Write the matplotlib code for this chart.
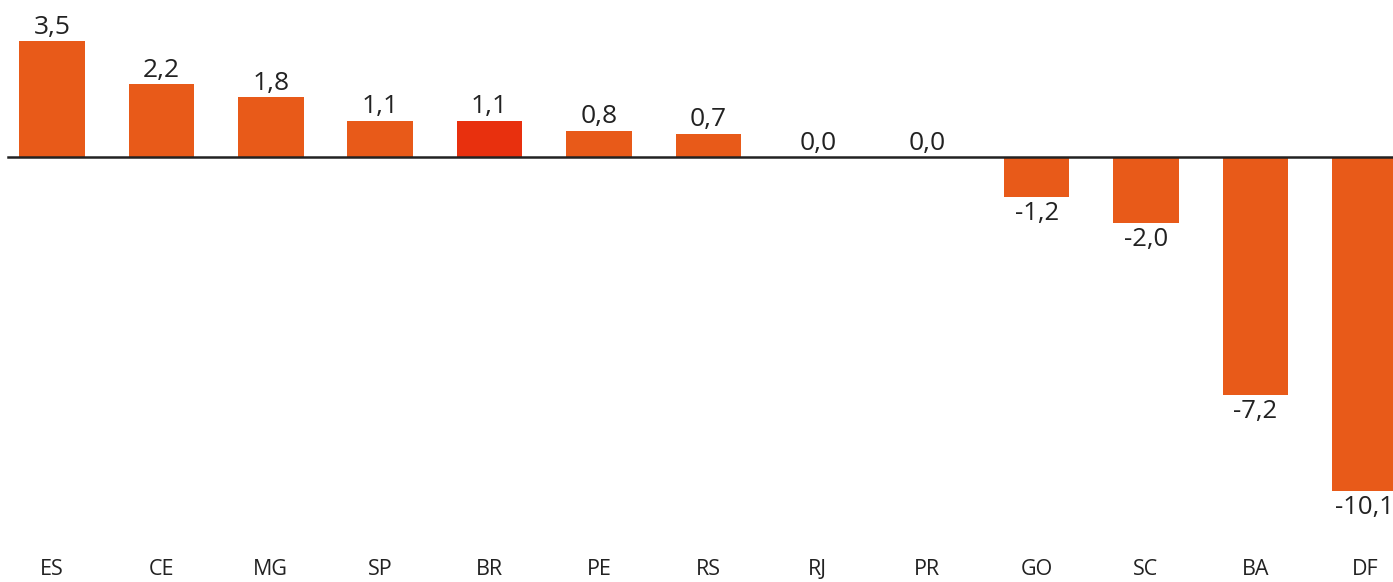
import matplotlib.pyplot as plt
import matplotlib.transforms as mtransforms

states = ['ES', 'CE', 'MG', 'SP', 'BR', 'PE', 'RS', 'RJ', 'PR', 'GO', 'SC', 'BA', 'DF']
values = [3.5, 2.2, 1.8, 1.1, 1.1, 0.8, 0.7, 0.0, 0.0, -1.2, -2.0, -7.2, -10.1]

orange = '#E85A19'
red = '#E8300E'
colors = [red if s == 'BR' else orange for s in states]

plt.rcParams['font.family'] = ['Open Sans', 'DejaVu Sans']

fig = plt.figure(figsize=(13.93, 5.82), dpi=100)
ax = fig.add_axes([0, 0, 1, 1])
ax.set_axis_off()

x = list(range(len(states)))
ax.bar(x, values, width=0.6, color=colors, zorder=2)
ax.axhline(0, xmin=8 / 1393, color='#222222', lw=1.8, zorder=3)

# pixel mapping: zero line at y=157 px, ~33 px per unit, ~109 px per category
ax.set_xlim(-52 / 109.4, 1341 / 109.4)
ax.set_ylim(-425 / 33.1, 157 / 33.1)

for xi, v in zip(x, values):
    label = f'{v:.1f}'.replace('.', ',')
    if v >= 0:
        ax.annotate(label, (xi, v), xytext=(0, 1), textcoords='offset points',
                    ha='center', va='bottom', fontsize=19, color='#222222')
    else:
        ax.annotate(label, (xi, v), xytext=(0, -3), textcoords='offset points',
                    ha='center', va='top', fontsize=18.5, color='#222222')

trans = mtransforms.blended_transform_factory(ax.transData, ax.transAxes)
for xi, s in zip(x, states):
    ax.text(xi, 0.021, s, transform=trans, ha='center', va='center',
            fontsize=15.5, color='#222222')

fig.savefig('out.png', dpi=100)
